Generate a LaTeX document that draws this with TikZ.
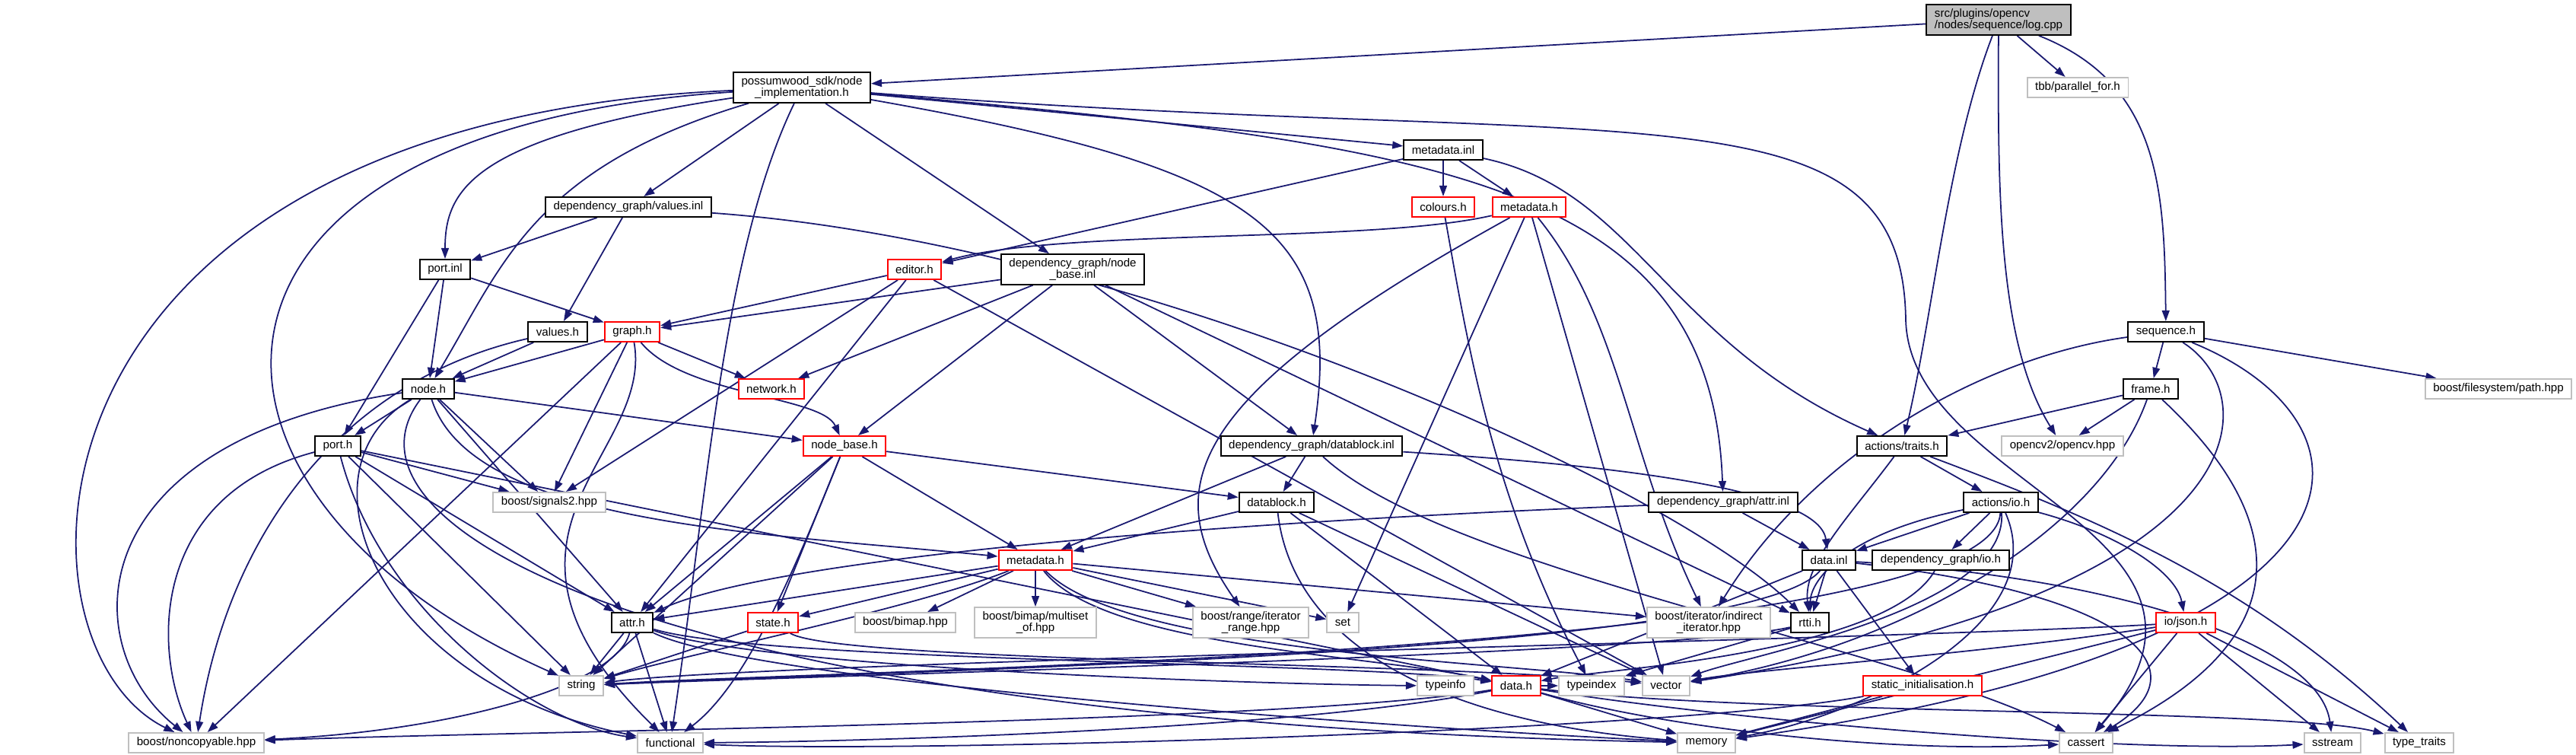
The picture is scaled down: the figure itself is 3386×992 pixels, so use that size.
\documentclass[tikz,border=0pt]{standalone}
\usepackage{fontspec}
\setmainfont{Liberation Sans}
\usepackage{tikz}
\usetikzlibrary{arrows.meta}
\definecolor{edgeblue}{HTML}{191970}
\newcommand{\lbl}{\fontsize{4.3}{4.3}\selectfont}
\pgfdeclarelayer{edges}
\pgfsetlayers{edges,main}

\begin{document}
\begin{tikzpicture}[
    x=0.01cm, y=-0.01cm,
    box/.style={rectangle, draw=black, fill=white, line width=0.55pt, inner xsep=3pt, inner ysep=1.5pt, minimum height=0.26cm, align=center, font=\lbl},
    redbox/.style={box, draw=red},
    greybox/.style={box, draw=gray!50},
    mainbox/.style={box, fill=gray!50, align=left},
    arrow/.style={-{Triangle[length=4pt,width=2.8pt]}, line width=0.5pt, draw=edgeblue}
]
\useasboundingbox (0,0) rectangle (3386,992);

% Row 1-4: top files
\node[mainbox] (src) at (2627,26) {src/plugins/opencv\\/nodes/sequence/log.cpp};
\node[box] (possum) at (1054,115) {possumwood\_sdk/node\\\_implementation.h};
\node[greybox] (tbb) at (2731,115) {tbb/parallel\_for.h};
\node[box] (metainl) at (1897,197) {metadata.inl};
\node[box] (valuesinl) at (826,272) {dependency\_graph/values.inl};
\node[redbox] (colours) at (1897,272) {colours.h};
\node[redbox] (metatop) at (2010,272) {metadata.h};
\node[box] (portinl) at (585,354) {port.inl};
\node[redbox] (editor) at (1202,354) {editor.h};
\node[box] (nodebaseinl) at (1410,354) {dependency\_graph/node\\\_base.inl};

% Row 5-8: middle files
\node[box] (valuesh) at (733,436) {values.h};
\node[redbox] (graphh) at (831,436) {graph.h};
\node[box] (seq) at (2847,436) {sequence.h};
\node[box] (nodeh) at (563,511) {node.h};
\node[redbox] (network) at (1014,511) {network.h};
\node[box] (frame) at (2827,511) {frame.h};
\node[greybox] (fspath) at (3284,511) {boost/filesystem/path.hpp};
\node[box] (porth) at (444,586) {port.h};
\node[redbox] (nodebaseh) at (1110,586) {node\_base.h};
\node[box] (datablockinl) at (1724,586) {dependency\_graph/datablock.inl};
\node[box] (traits) at (2500,586) {actions/traits.h};
\node[greybox] (opencv) at (2711,586) {opencv2/opencv.hpp};
\node[greybox] (signals) at (722,660) {boost/signals2.hpp};
\node[box] (datablockh) at (1678,660) {datablock.h};
\node[box] (attrinl) at (2265,660) {dependency\_graph/attr.inl};
\node[box] (ioh) at (2630,660) {actions/io.h};
\node[redbox] (metalow) at (1361,736) {metadata.h};
\node[box] (datainl) at (2404,736) {data.inl};
\node[box] (dgio) at (2551,736) {dependency\_graph/io.h};

% Row 9-11: leaf files
\node[box] (attrh) at (831,818) {attr.h};
\node[redbox] (stateh) at (1016,818) {state.h};
\node[greybox] (bimap) at (1190,818) {boost/bimap.hpp};
\node[greybox] (multiset) at (1361,818) {boost/bimap/multiset\\\_of.hpp};
\node[greybox] (range) at (1644,818) {boost/range/iterator\\\_range.hpp};
\node[greybox] (set) at (1765,818) {set};
\node[greybox] (indirect) at (2246,818) {boost/iterator/indirect\\\_iterator.hpp};
\node[box] (rtti) at (2379,818) {rtti.h};
\node[redbox] (json) at (2873,818) {io/json.h};
\node[greybox] (string) at (764,901) {string};
\node[greybox] (typeinfo) at (1900,901) {typeinfo};
\node[redbox] (datah) at (1993,901) {data.h};
\node[greybox] (typeindex) at (2092,901) {typeindex};
\node[greybox] (vector) at (2190,901) {vector};
\node[redbox] (staticinit) at (2527,901) {static\_initialisation.h};
\node[greybox] (noncopy) at (258,976) {boost/noncopyable.hpp};
\node[greybox] (functional) at (881,976) {functional};
\node[greybox] (memory) at (2243,976) {memory};
\node[greybox] (cassert) at (2742,976) {cassert};
\node[greybox] (sstream) at (3066,976) {sstream};
\node[greybox] (typetraits) at (3180,976) {type\_traits};

\begin{pgfonlayer}{edges}
% log.cpp
\draw[arrow] (src) -- (possum);
\draw[arrow] (src) -- (tbb);
\draw[arrow] (src) .. controls (2560,200) and (2540,420) .. (traits);
\draw[arrow] (src) .. controls (2626,250) and (2626,450) .. (opencv);
\draw[arrow] (src) .. controls (2840,110) and (2845,250) .. (seq);

% node_implementation.h
\draw[arrow] (possum) .. controls (0,160) and (0,850) .. (noncopy);
\draw[arrow] (possum) .. controls (200,170) and (200,650) .. (string);
\draw[arrow] (possum) .. controls (620,180) and (585,250) .. (portinl);
\draw[arrow] (possum) .. controls (700,220) and (660,350) .. (nodeh);
\draw[arrow] (possum) -- (valuesinl);
\draw[arrow] (possum) .. controls (950,330) and (930,650) .. (functional);
\draw[arrow] (possum) -- (nodebaseinl);
\draw[arrow] (possum) -- (metainl);
\draw[arrow] (possum) .. controls (1650,220) and (1767,300) .. (datablockinl);
\draw[arrow] (possum) .. controls (1900,190) and (2250,240) .. (attrinl);
\draw[arrow] (possum) .. controls (2150,200) and (2500,100) .. (2505,420) .. controls (2510,640) and (2980,700) .. (cassert);

% values.inl, metadata.inl, colours.h, metadata.h
\draw[arrow] (valuesinl) -- (portinl);
\draw[arrow] (valuesinl) -- (valuesh);
\draw[arrow] (valuesinl) .. controls (1500,320) and (2200,640) .. (rtti);
\draw[arrow] (metainl) -- (colours);
\draw[arrow] (metainl) -- (metatop);
\draw[arrow] (metainl) -- (editor);
\draw[arrow] (metainl) .. controls (2150,250) and (2190,450) .. (traits);
\draw[arrow] (metatop) .. controls (1800,320) and (1400,300) .. (editor);
\draw[arrow] (metatop) .. controls (1560,520) and (1520,640) .. (range);
\draw[arrow] (metatop) -- (set);
\draw[arrow] (metatop) -- (vector);
\draw[arrow] (metatop) .. controls (2131,420) and (2140,600) .. (indirect);
\draw[arrow] (colours) .. controls (1929,450) and (1960,650) .. (typeindex);

% port.inl, editor.h, node_base.inl
\draw[arrow] (portinl) -- (nodeh);
\draw[arrow] (portinl) -- (porth);
\draw[arrow] (portinl) -- (graphh);
\draw[arrow] (editor) -- (graphh);
\draw[arrow] (editor) -- (signals);
\draw[arrow] (editor) -- (attrh);
\draw[arrow] (editor) -- (vector);
\draw[arrow] (nodebaseinl) -- (graphh);
\draw[arrow] (nodebaseinl) -- (network);
\draw[arrow] (nodebaseinl) -- (nodebaseh);
\draw[arrow] (nodebaseinl) -- (datablockinl);
\draw[arrow] (nodebaseinl) -- (rtti);

% values.h, graph.h, sequence.h
\draw[arrow] (valuesh) -- (nodeh);
\draw[arrow] (valuesh) .. controls (450,500) and (300,700) .. (noncopy);
\draw[arrow] (graphh) -- (nodeh);
\draw[arrow] (graphh) -- (network);
\draw[arrow] (graphh) -- (signals);
\draw[arrow] (graphh) -- (noncopy);
\draw[arrow] (graphh) .. controls (860,600) and (600,700) .. (functional);
\draw[arrow] (graphh) .. controls (900,520) and (1080,520) .. (nodebaseh);
\draw[arrow] (seq) -- (frame);
\draw[arrow] (seq) -- (fspath);
\draw[arrow] (seq) .. controls (2600,470) and (2380,600) .. (indirect);
\draw[arrow] (seq) .. controls (2980,520) and (2980,780) .. (vector);
\draw[arrow] (seq) .. controls (3150,560) and (3150,850) .. (memory);

% node.h, frame.h
\draw[arrow] (nodeh) -- (porth);
\draw[arrow] (nodeh) -- (signals);
\draw[arrow] (nodeh) -- (nodebaseh);
\draw[arrow] (nodeh) .. controls (620,690) and (1000,700) .. (metalow);
\draw[arrow] (nodeh) -- (attrh);
\draw[arrow] (nodeh) .. controls (100,580) and (100,850) .. (noncopy);
\draw[arrow] (nodeh) .. controls (380,620) and (500,900) .. (functional);
\draw[arrow] (nodeh) .. controls (420,700) and (900,950) .. (memory);
\draw[arrow] (frame) -- (traits);
\draw[arrow] (frame) -- (opencv);
\draw[arrow] (frame) .. controls (2760,700) and (2500,850) .. (vector);
\draw[arrow] (frame) .. controls (3030,700) and (3000,850) .. (cassert);

% port.h, node_base.h, datablock.inl, traits.h
\draw[arrow] (porth) .. controls (200,650) and (200,850) .. (noncopy);
\draw[arrow] (porth) -- (signals);
\draw[arrow] (porth) -- (attrh);
\draw[arrow] (porth) -- (string);
\draw[arrow] (porth) .. controls (500,800) and (700,950) .. (functional);
\draw[arrow] (porth) -- (datah);
\draw[arrow] (nodebaseh) -- (datablockh);
\draw[arrow] (nodebaseh) -- (metalow);
\draw[arrow] (nodebaseh) -- (stateh);
\draw[arrow] (nodebaseh) -- (string);
\draw[arrow] (nodebaseh) -- (attrh);
\draw[arrow] (nodebaseh) .. controls (1040,760) and (980,900) .. (functional);
\draw[arrow] (datablockinl) -- (datablockh);
\draw[arrow] (datablockinl) -- (metalow);
\draw[arrow] (datablockinl) .. controls (2100,610) and (2390,640) .. (datainl);
\draw[arrow] (datablockinl) .. controls (1900,750) and (2500,850) .. (cassert);
\draw[arrow] (traits) -- (ioh);
\draw[arrow] (traits) .. controls (2430,680) and (2370,740) .. (rtti);
\draw[arrow] (traits) .. controls (2750,680) and (2950,760) .. (typetraits);

% datablock.h, attr.inl, io.h
\draw[arrow] (datablockh) -- (metalow);
\draw[arrow] (datablockh) -- (datah);
\draw[arrow] (datablockh) -- (vector);
\draw[arrow] (datablockh) .. controls (1700,850) and (1900,950) .. (memory);
\draw[arrow] (attrinl) .. controls (1500,690) and (1000,740) .. (attrh);
\draw[arrow] (attrinl) -- (datainl);
\draw[arrow] (ioh) -- (datainl);
\draw[arrow] (ioh) -- (dgio);
\draw[arrow] (ioh) .. controls (2430,700) and (2380,760) .. (rtti);
\draw[arrow] (ioh) .. controls (2780,700) and (2860,750) .. (json);
\draw[arrow] (ioh) .. controls (2620,860) and (1100,880) .. (string);
\draw[arrow] (ioh) .. controls (2640,800) and (2300,860) .. (vector);
\draw[arrow] (ioh) .. controls (2700,820) and (2450,940) .. (memory);

% metadata.h
\draw[arrow] (metalow) -- (attrh);
\draw[arrow] (metalow) -- (stateh);
\draw[arrow] (metalow) .. controls (1200,800) and (900,860) .. (string);
\draw[arrow] (metalow) -- (bimap);
\draw[arrow] (metalow) -- (multiset);
\draw[arrow] (metalow) -- (range);
\draw[arrow] (metalow) -- (set);
\draw[arrow] (metalow) -- (indirect);
\draw[arrow] (metalow) .. controls (1450,850) and (1800,860) .. (datah);
\draw[arrow] (metalow) .. controls (1480,860) and (2000,870) .. (vector);

% data.inl, io.h, attr.h, state.h, rtti.h, json.h
\draw[arrow] (datainl) -- (rtti);
\draw[arrow] (datainl) -- (staticinit);
\draw[arrow] (datainl) -- (datah);
\draw[arrow] (datainl) .. controls (2800,760) and (3050,850) .. (sstream);
\draw[arrow] (datainl) .. controls (2800,780) and (2900,880) .. (cassert);
\draw[arrow] (datainl) .. controls (2300,860) and (1200,880) .. (string);
\draw[arrow] (dgio) .. controls (2480,860) and (2100,880) .. (datah);
\draw[arrow] (attrh) -- (string);
\draw[arrow] (attrh) -- (functional);
\draw[arrow] (attrh) .. controls (1000,880) and (1700,900) .. (typeinfo);
\draw[arrow] (attrh) .. controls (1000,870) and (1800,870) .. (datah);
\draw[arrow] (attrh) .. controls (810,900) and (600,960) .. (noncopy);
\draw[arrow] (attrh) .. controls (1000,900) and (1900,960) .. (memory);
\draw[arrow] (stateh) -- (string);
\draw[arrow] (stateh) .. controls (1100,870) and (1900,870) .. (vector);
\draw[arrow] (rtti) .. controls (2200,860) and (1000,890) .. (string);
\draw[arrow] (rtti) -- (typeindex);
\draw[arrow] (json) .. controls (2500,840) and (1000,870) .. (string);
\draw[arrow] (json) .. controls (2600,860) and (2300,880) .. (vector);
\draw[arrow] (json) -- (memory);
\draw[arrow] (json) -- (cassert);
\draw[arrow] (json) -- (sstream);
\draw[arrow] (json) -- (typetraits);

% data.h, static_initialisation.h
\draw[arrow] (datah) -- (typeindex);
\draw[arrow] (datah) -- (memory);
\draw[arrow] (datah) .. controls (2200,960) and (2500,990) .. (cassert);
\draw[arrow] (datah) .. controls (2300,950) and (2800,990) .. (sstream);
\draw[arrow] (datah) .. controls (2300,940) and (3000,930) .. (typetraits);
\draw[arrow] (datah) .. controls (1700,950) and (700,960) .. (noncopy);
\draw[arrow] (datah) .. controls (1700,960) and (1100,975) .. (functional);
\draw[arrow] (staticinit) -- (memory);
\draw[arrow] (staticinit) .. controls (2200,960) and (1200,990) .. (functional);
\end{pgfonlayer}

\end{tikzpicture}
\end{document}
